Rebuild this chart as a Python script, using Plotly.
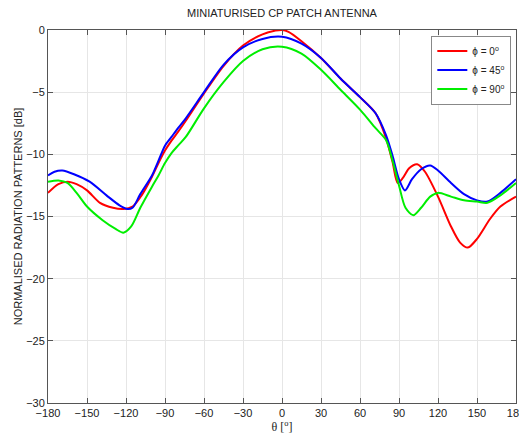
import plotly.graph_objects as go

theta_red = [-180, -172, -165, -158, -150, -140, -130, -122, -115, -108, -100, -95, -90, -85, -80, -74, -60, -45, -30, -15, -5, 0, 5, 15, 30, 45, 60, 72, 80, 85, 89, 93, 98, 104, 110, 120, 130, 137, 143, 150, 160, 168, 180]
red = [-13.1, -12.4, -12.2, -12.4, -12.9, -13.9, -14.3, -14.4, -14.2, -13.3, -11.8, -10.7, -9.7, -8.9, -8.2, -7.3, -5.1, -2.9, -1.25, -0.35, -0.05, 0.0, -0.15, -0.9, -2.25, -3.9, -5.4, -6.7, -8.7, -10.6, -12.3, -11.9, -11.1, -10.8, -11.4, -13.4, -15.8, -17.1, -17.5, -16.8, -15.2, -14.2, -13.4]

theta_blue = [-180, -175, -169, -160, -148, -135, -125, -119, -115, -109, -100, -95, -90, -85, -80, -74, -60, -45, -30, -15, 0, 15, 30, 45, 60, 72, 80, 85, 90, 94.6, 100, 107, 114, 120, 130, 140, 150, 158, 168, 180]
blue = [-11.7, -11.4, -11.3, -11.6, -12.2, -13.3, -14.1, -14.4, -14.3, -13.2, -11.7, -10.5, -9.3, -8.6, -7.9, -7.1, -5.0, -2.8, -1.4, -0.72, -0.55, -1.1, -2.25, -3.9, -5.4, -6.7, -8.45, -10.1, -12.0, -12.9, -12.0, -11.2, -10.9, -11.3, -12.3, -13.2, -13.7, -13.8, -13.1, -12.0]

theta_green = [-180, -172, -165, -158, -150, -138, -128, -122, -116, -109, -100, -95, -90, -85, -80, -74, -60, -45, -30, -15, 0, 15, 30, 45, 60, 72, 80, 85, 90, 95, 101, 107, 114, 120, 130, 140, 150, 158, 168, 180]
green = [-12.2, -12.1, -12.3, -13.1, -14.2, -15.3, -16.0, -16.3, -15.8, -14.3, -12.6, -11.7, -10.7, -9.9, -9.3, -8.6, -6.3, -4.2, -2.5, -1.55, -1.35, -1.9, -3.2, -4.8, -6.4, -7.9, -8.85, -10.5, -12.5, -14.3, -14.9, -14.3, -13.4, -13.1, -13.4, -13.7, -13.8, -13.9, -13.3, -12.3]

names = ["ϕ = 0<sup>o</sup>", "ϕ = 45<sup>o</sup>", "ϕ = 90<sup>o</sup>"]
x_ticks = list(range(-180, 181, 30))
y_ticks = list(range(-30, 1, 5))

fig = go.Figure()
for th, vals, col, nm in [(theta_red, red, "#ff0000", names[0]),
                          (theta_blue, blue, "#0000ff", names[1]),
                          (theta_green, green, "#00ee00", names[2])]:
    fig.add_trace(go.Scatter(x=th, y=vals, mode="lines", name=nm,
                             line=dict(color=col, width=2, shape="spline", smoothing=0.8)))

axis_common = dict(showgrid=True, gridcolor="#e6e6e6", gridwidth=1,
                   showline=True, linecolor="#555555", linewidth=1, mirror="ticks",
                   ticks="inside", ticklen=5, tickcolor="#555555", zeroline=False,
                   automargin=False,
                   tickfont=dict(family="Liberation Sans, Arial", size=11, color="#222"))

# page body has an 8px margin, so the figure is sized/offset to fit the window
fig.update_layout(
    width=519, height=428,
    margin=dict(l=40, r=11, t=22, b=33, autoexpand=False),
    paper_bgcolor="white", plot_bgcolor="white",
    title=dict(text="MINIATURISED CP PATCH ANTENNA", x=0.5, xanchor="center",
               xref="paper", y=1, yref="container", yanchor="top", pad=dict(t=1),
               font=dict(family="Liberation Sans, Arial", size=11, color="#222")),
    xaxis=dict(range=[-180, 180], tickvals=x_ticks,
               title=dict(text="θ [<sup>o</sup>]", standoff=2,
                          font=dict(family="Liberation Serif, Times New Roman", size=12, color="#222")),
               **axis_common),
    yaxis=dict(range=[-30, 0], tickvals=y_ticks,
               title=dict(text="NORMALISED RADIATION PATTERNS [dB]", standoff=1,
                          font=dict(family="Liberation Sans, Arial", size=11, color="#222")),
               **axis_common),
    legend=dict(x=0.99, y=0.985, xanchor="right", yanchor="top",
                bgcolor="white", bordercolor="#888888", borderwidth=1,
                font=dict(family="Liberation Sans, Arial", size=10, color="#222"),
                tracegroupgap=0),
    showlegend=True,
)

fig.write_html("out.html")
